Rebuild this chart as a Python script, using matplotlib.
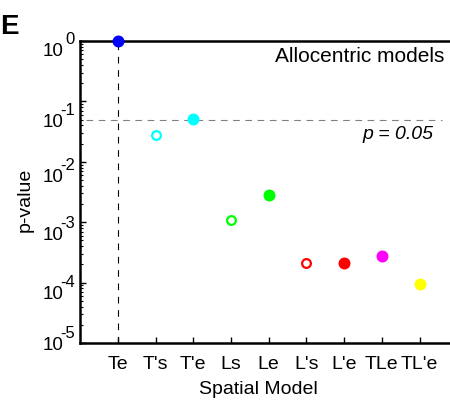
import matplotlib
matplotlib.use('Agg')
import matplotlib.pyplot as plt
import matplotlib.ticker as mticker
import matplotlib.transforms as mtransforms
import numpy as np

plt.rcParams['font.family'] = ['Liberation Sans', 'DejaVu Sans']

# Data
models = ['Te', "T's", "T'e", 'Ls', 'Le', "L's", "L'e", 'TLe', "TL'e"]
pvalues = [1.0, 0.028, 0.051, 1.09e-3, 2.8e-3, 2.15e-4, 2.15e-4, 2.8e-4, 9.5e-5]
colors = ['#0000ff', '#00ffff', '#00ffff', '#00ff00', '#00ff00',
          '#ff0000', '#ff0000', '#ff00ff', '#ffff00']
filled = [True, False, True, False, True, False, True, True, True]
best_model = 'Te'
p_threshold = 0.05
decades = [0, -1, -2, -3, -4, -5]
# downward shift (pixels) of each y tick label, as in the original figure
label_shift = [11, 21, 16, 13, 12, 2]

fig = plt.figure(figsize=(4.5, 4.05), dpi=100)
ax = fig.add_axes([0.178, 0.153, 0.83, 0.746])

xpos = np.arange(1, len(models) + 1)

ax.axvline(xpos[models.index(best_model)], color='black', linestyle=(0, (6, 6)),
           linewidth=0.8, zorder=1)
ax.hlines(p_threshold, 0.15, 9.6, color='gray', linestyle=(0, (6, 5)),
          linewidth=0.8, zorder=1)

for x, p, c, f in zip(xpos, pvalues, colors, filled):
    ax.plot(x, p, 'o', markersize=7 if f else 6.3,
            markerfacecolor=c if f else 'white', markeredgecolor=c,
            markeredgewidth=1.6, clip_on=False, zorder=3)

ax.set_yscale('log')
ax.set_ylim(1e-5, 1)
ax.set_xlim(0, 9.9)

ax.set_xticks(xpos)
ax.set_xticklabels(models)
ax.set_yticks([10.0 ** d for d in decades])
ax.yaxis.set_minor_locator(mticker.LogLocator(base=10, subs=np.arange(2, 10), numticks=10))
ax.yaxis.set_major_formatter(mticker.NullFormatter())
ax.yaxis.set_minor_formatter(mticker.NullFormatter())

ax.tick_params(axis='both', which='major', direction='in', length=4, width=1,
               labelsize=14)
ax.tick_params(axis='x', which='major', pad=9.5)
ax.tick_params(axis='y', which='minor', direction='in', length=2, width=0.8)

# y tick labels drawn as "10" with a raised exponent
base_tr = mtransforms.blended_transform_factory(fig.transFigure, ax.transData)
for d, sh in zip(decades, label_shift):
    off = mtransforms.ScaledTranslation(0, -sh / 100, fig.dpi_scale_trans)
    ax.text(63 / 450, 10.0 ** d, '10', fontsize=13.5, ha='right', va='center',
            transform=base_tr + off, clip_on=False)
    off2 = mtransforms.ScaledTranslation(0, (12 - sh) / 100, fig.dpi_scale_trans)
    ax.text(75 / 450, 10.0 ** d, ('-' if d < 0 else '') + str(abs(d)), fontsize=12,
            ha='right', va='center', transform=base_tr + off2, clip_on=False)

ax.spines['right'].set_visible(False)
for s in ['left', 'top', 'bottom']:
    ax.spines[s].set_linewidth(1.8)

ax.set_xlabel('Spatial Model', fontsize=14)
ax.xaxis.set_label_coords(0.477, -0.125)
ax.set_ylabel('p-value', fontsize=14)
ax.yaxis.set_label_coords(-0.125, 0.475)

ax.text(9.65, 0.78, 'Allocentric models', fontsize=15, ha='right', va='top')
ax.text(9.37, 0.039, 'p = 0.05', fontsize=14, ha='right', va='top', style='italic')

fig.text(0.0, 0.965, 'E', fontsize=20, fontweight='bold', ha='left', va='top')

fig.savefig('out.png', dpi=100)
